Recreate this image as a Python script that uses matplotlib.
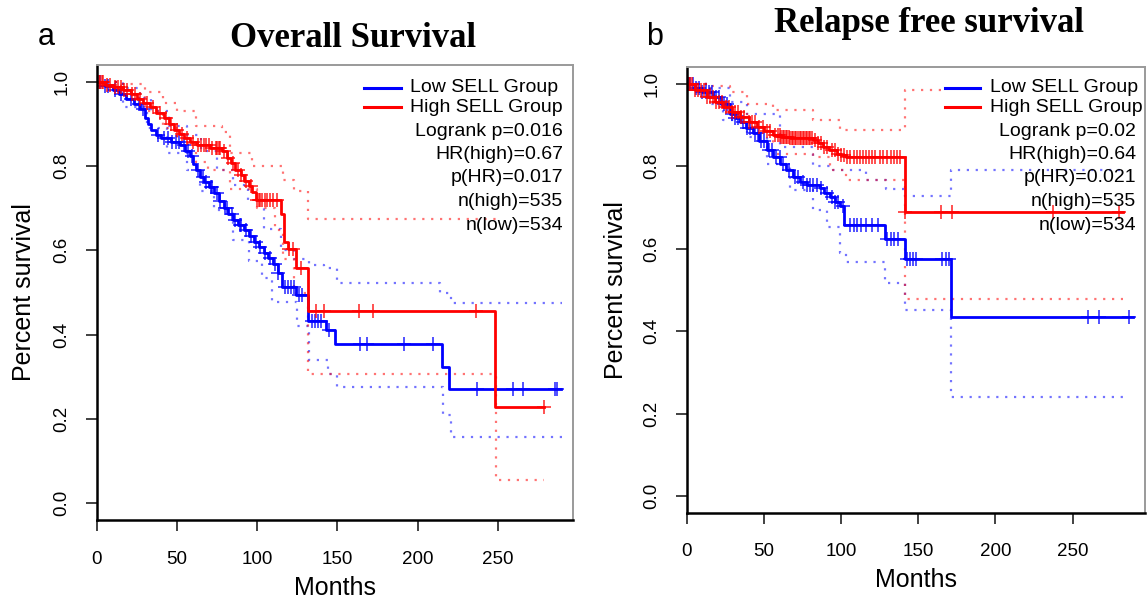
import numpy as np
import matplotlib
matplotlib.use("Agg")
import matplotlib.pyplot as plt
from matplotlib.lines import Line2D

plt.rcParams['font.family'] = ['Liberation Sans', 'DejaVu Sans']

# ---------------- Panel a: Overall Survival ----------------
a_low_t = [0, 5, 10, 14, 18, 23, 27, 30, 32, 34, 37, 40, 46, 52, 55, 58, 60, 62, 64.5, 67, 70, 73, 76, 79,
           82, 85, 88, 91.7, 95, 98, 101, 104, 107, 110, 113, 115.7, 124, 131.4, 142.9, 148.5, 215.3, 219.5, 289.5]
a_low_s = [1.0, 0.99, 0.98, 0.97, 0.96, 0.948, 0.935, 0.915, 0.90, 0.886, 0.875, 0.866, 0.858, 0.85, 0.835,
           0.823, 0.805, 0.79, 0.775, 0.763, 0.75, 0.736, 0.718, 0.70, 0.687, 0.673, 0.66, 0.649, 0.635, 0.62,
           0.607, 0.594, 0.582, 0.568, 0.546, 0.514, 0.495, 0.433, 0.41, 0.378, 0.323, 0.271, 0.271]
a_high_t = [0, 5, 10, 16.5, 21, 25, 29, 33, 37, 41.5, 45, 48, 51, 54, 58, 62.5, 70.8, 78, 81, 83.3, 86, 89.6,
            92, 94.8, 97, 99, 114.7, 116.5, 118.9, 124, 131.4, 248.3, 279]
a_high_s = [1.0, 0.993, 0.987, 0.98, 0.97, 0.96, 0.95, 0.94, 0.927, 0.914, 0.9, 0.886, 0.876, 0.866, 0.858,
            0.851, 0.843, 0.835, 0.82, 0.807, 0.79, 0.779, 0.765, 0.752, 0.738, 0.72, 0.686, 0.62, 0.603,
            0.558, 0.455, 0.228, 0.228]
a_low_cens = [2, 5, 7, 11, 15, 21, 26, 29, 38, 42, 44, 47, 49, 51, 54, 57, 59, 63, 66, 68, 71, 72, 75, 77, 80,
              81, 84, 86, 89, 90, 93, 96, 99, 102, 105, 108, 111, 113, 117, 119, 121, 123, 126, 128, 134, 136,
              138, 140, 145, 164.4, 168.5, 191.3, 209.7, 237.3, 259.4, 266.1, 285.5, 287]
a_high_cens = [1, 2, 3, 4, 6, 8, 11, 13, 15, 17, 19, 22, 24, 27, 31, 35, 39, 43, 46, 50, 53, 56, 60, 63, 65,
               67, 68, 70, 72, 74, 75, 76, 77, 79, 82, 85, 88, 90, 93, 96, 100, 101, 102, 103, 105, 106, 108,
               110, 112, 120, 122, 127, 136.6, 141.8, 163.3, 172.3, 236.2, 279]
a_high_up_t = [0, 15, 30, 41, 50, 62, 78, 83, 97, 113, 116, 123, 131.4, 249]
a_high_up_s = [1.0, 0.995, 0.975, 0.95, 0.93, 0.895, 0.88, 0.83, 0.80, 0.80, 0.766, 0.74, 0.675, 0.675]
a_high_lo_t = [0, 15, 30, 41, 50, 62, 69, 83, 99.6, 111, 116, 123, 131.4, 249, 279]
a_high_lo_s = [1.0, 0.97, 0.93, 0.89, 0.855, 0.81, 0.79, 0.745, 0.70, 0.648, 0.58, 0.50, 0.307, 0.056, 0.056]
a_low_up_t = [0, 16, 27, 34, 45, 56, 65, 75, 85, 94, 104, 115, 123, 132, 141.5, 149.7, 214, 220.8, 290]
a_low_up_s = [1.0, 0.985, 0.962, 0.93, 0.895, 0.875, 0.835, 0.79, 0.755, 0.72, 0.65, 0.60, 0.58, 0.566,
              0.557, 0.522, 0.50, 0.476, 0.476]
a_low_lo_t = [0, 16, 31, 43.6, 56, 64.5, 73, 85, 95, 103, 109, 123, 125, 132, 144, 149.7, 216, 218, 220.8, 290]
a_low_lo_s = [1.0, 0.94, 0.89, 0.83, 0.79, 0.74, 0.695, 0.625, 0.575, 0.535, 0.478, 0.478, 0.42, 0.34, 0.307,
              0.275, 0.21, 0.21, 0.157, 0.157]
a_stats = ["Logrank p=0.016", "HR(high)=0.67", "p(HR)=0.017", "n(high)=535", "n(low)=534"]

# ---------------- Panel b: Relapse free survival ----------------
b_low_t = [0, 5, 10, 17, 22, 27.8, 31, 34.3, 38, 42.9, 47, 51.6, 56, 60.2, 64.5, 68.8, 73, 77.5, 86.1, 89,
           92.6, 96, 99.1, 101.5, 128.5, 141.2, 171, 289]
b_low_s = [1.0, 0.99, 0.98, 0.967, 0.95, 0.927, 0.917, 0.907, 0.893, 0.879, 0.86, 0.838, 0.822, 0.806, 0.79,
           0.774, 0.762, 0.754, 0.746, 0.735, 0.725, 0.713, 0.703, 0.657, 0.622, 0.574, 0.433, 0.433]
b_high_t = [0, 5, 12.8, 18, 23.5, 29, 34.3, 40, 45.1, 50, 55.9, 61, 66.7, 81.8, 85, 88.3, 92, 97, 100, 103.4,
            141.2, 282.6]
b_high_s = [1.0, 0.985, 0.967, 0.955, 0.943, 0.93, 0.919, 0.907, 0.895, 0.885, 0.875, 0.87, 0.867, 0.863,
            0.855, 0.846, 0.838, 0.83, 0.826, 0.822, 0.689, 0.689]
b_low_cens = [1, 2, 4, 6, 8, 10, 12, 14, 16, 19, 21, 24, 26, 29, 31, 33, 36, 39, 41, 44, 46, 48, 50, 53, 55,
              58, 60, 62, 66, 70, 72, 75, 78, 80, 82, 84, 87, 91, 94, 96, 98, 101, 106, 108, 110, 113, 116, 120,
              124, 130, 132, 134, 136.6, 142.7, 144.5, 146.5, 148.8, 165.6, 168, 170, 260, 267, 286.5]
b_high_cens = [1, 2, 3, 5, 7, 9, 11, 13, 15, 17, 19, 21, 23, 25, 27, 29, 31, 33, 35, 37, 40, 42, 44, 47, 49,
               52, 54, 57, 59, 60, 61, 62, 63, 64, 65, 66, 67, 68, 69, 70, 71, 72, 73, 74, 75, 76, 77, 78, 79,
               80, 81, 83, 85, 87, 89, 91, 94, 96, 98, 100, 102, 104, 106, 108, 110, 112, 114, 116, 118, 120,
               122, 125, 127, 130, 132, 134, 136, 138, 141.5, 165, 172, 237.2, 280]
b_high_up_t = [0, 15, 27.8, 38.6, 55.9, 81.8, 99, 141.2, 165]
b_high_up_s = [1.0, 0.995, 0.98, 0.95, 0.935, 0.911, 0.887, 0.985, 0.985]
b_high_lo_t = [0, 15, 27.8, 38.6, 55.9, 81.8, 92.5, 103.4, 141.2, 283]
b_high_lo_s = [1.0, 0.955, 0.93, 0.895, 0.83, 0.822, 0.79, 0.766, 0.478, 0.478]
b_low_up_t = [0, 15, 27.8, 38.6, 60.2, 81.8, 94.8, 116.4, 129.3, 141.2, 171, 283]
b_low_up_s = [1.0, 0.99, 0.955, 0.925, 0.846, 0.80, 0.79, 0.766, 0.745, 0.728, 0.79, 0.79]
b_low_lo_t = [0, 15, 23.5, 38.6, 51.6, 66.7, 81.8, 90.5, 99.1, 103.4, 128.5, 141.2, 171, 283]
b_low_lo_s = [1.0, 0.95, 0.911, 0.87, 0.806, 0.741, 0.693, 0.653, 0.588, 0.568, 0.517, 0.452, 0.241, 0.241]
b_stats = ["Logrank p=0.02", "HR(high)=0.64", "p(HR)=0.021", "n(high)=535", "n(low)=534"]

group_labels = ["Low SELL Group", "High SELL Group"]
x_ticks = [0, 50, 100, 150, 200, 250]
y_ticks = [0.0, 0.2, 0.4, 0.6, 0.8, 1.0]

BLUE = "#0000FF"
RED = "#FF0000"
W, H = 1147, 603

fig = plt.figure(figsize=(W / 100, H / 100), dpi=100)


def px_axes(l, t, r, b):
    return fig.add_axes([l / W, 1 - b / H, (r - l) / W, (b - t) / H])


def step_val(times, surv, c):
    i = np.searchsorted(np.asarray(times), c, side='right') - 1
    return np.asarray(surv)[np.clip(i, 0, len(surv) - 1)]


def km_panel(ax, low, high, cis, cens):
    dot = (0, (1, 3))
    for (t, s), col in cis:
        ax.step(t, s, where='post', color=col, lw=1.6, ls=dot, alpha=0.55)
    for (t, s), c, col in [(low, cens[0], BLUE), (high, cens[1], RED)]:
        ax.step(t, s, where='post', color=col, lw=2.0)
        cc = np.asarray(c)
        ax.plot(cc, step_val(t, s, cc), ls='none', marker='+', ms=10, mew=1.2, color=col, alpha=0.8)
    ax.set_xlim(0, 297)
    ax.set_ylim(-0.04, 1.04)
    ax.set_xticks(x_ticks)
    ax.set_xticklabels([str(v) for v in x_ticks])
    ax.set_yticks(y_ticks)
    ax.set_yticklabels([f"{v:.1f}" for v in y_ticks], rotation=90, va='center')
    ax.tick_params(axis='both', direction='out', length=8, width=1.3, color='#333333', labelsize=13.5)
    ax.tick_params(axis='x', pad=14)
    ax.tick_params(axis='y', pad=11)
    for sp in ['top', 'right']:
        ax.spines[sp].set_color('#9a9a9a')
        ax.spines[sp].set_linewidth(1.4)
    for sp in ['left', 'bottom']:
        ax.spines[sp].set_color('black')
        ax.spines[sp].set_linewidth(1.8)
    ax.set_ylabel("Percent survival", fontsize=18)
    ax.set_xlabel("Months", fontsize=18)


def legend(x0, x1, xt, xr, rows, stats):
    for y, lab, col in zip(rows[:2], group_labels, [BLUE, RED]):
        fig.add_artist(Line2D([x0 / W, x1 / W], [1 - y / H, 1 - y / H], color=col, lw=2.2))
        fig.text(xt / W, 1 - y / H, lab, ha='left', va='center', fontsize=14)
    for y, s in zip(rows[2:], stats):
        fig.text(xr / W, 1 - y / H, s, ha='right', va='center', fontsize=14)


rows = [88, 107, 131, 154.5, 178, 201.5, 225.5]

axa = px_axes(97, 65, 573, 520)
km_panel(axa, (a_low_t, a_low_s), (a_high_t, a_high_s),
         [((a_low_up_t, a_low_up_s), BLUE), ((a_low_lo_t, a_low_lo_s), BLUE),
          ((a_high_up_t, a_high_up_s), RED), ((a_high_lo_t, a_high_lo_s), RED)],
         (a_low_cens, a_high_cens))
axa.yaxis.set_label_coords(-0.128, 0.5)
axa.xaxis.set_label_coords(0.5, -0.122)
legend(364, 401, 410, 563, rows, a_stats)

axb = px_axes(687, 67, 1145, 512.5)
km_panel(axb, (b_low_t, b_low_s), (b_high_t, b_high_s),
         [((b_low_up_t, b_low_up_s), BLUE), ((b_low_lo_t, b_low_lo_s), BLUE),
          ((b_high_up_t, b_high_up_s), RED), ((b_high_lo_t, b_high_lo_s), RED)],
         (b_low_cens, b_high_cens))
axb.yaxis.set_label_coords(-0.129, 0.5)
axb.xaxis.set_label_coords(0.5, -0.125)
legend(945, 980, 990, 1136, rows, b_stats)

fig.text(353 / W, 1 - 38.7 / H, "Overall Survival", ha='center', va='center', fontsize=25,
         family='Liberation Serif', weight='bold')
fig.text(929 / W, 1 - 23.5 / H, "Relapse free survival", ha='center', va='center', fontsize=25,
         family='Liberation Serif', weight='bold')
fig.text(46 / W, 1 - 37 / H, "a", ha='center', va='center', fontsize=22)
fig.text(655 / W, 1 - 37 / H, "b", ha='center', va='center', fontsize=22)

fig.savefig("out.png", dpi=100)
